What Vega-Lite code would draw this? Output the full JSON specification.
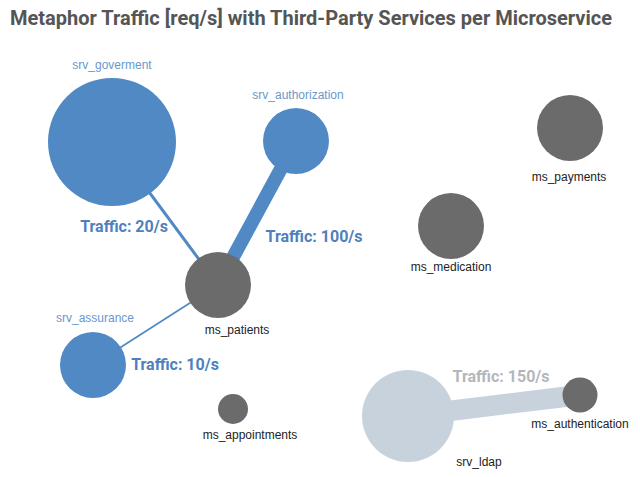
{
  "$schema": "https://vega.github.io/schema/vega-lite/v6.json",
  "width": 640,
  "height": 432,
  "autosize": {"type": "none"},
  "padding": {"left": 0, "top": 45, "right": 0, "bottom": 0},
  "background": "white",
  "title": {
    "text": "Metaphor Traffic [req/s] with Third-Party Services per Microservice",
    "anchor": "start",
    "frame": "group",
    "dx": 10,
    "offset": 16,
    "font": "Roboto",
    "fontSize": 20,
    "fontWeight": "bold",
    "color": "#555555"
  },
  "config": {"view": {"stroke": null}},
  "datasets": {
    "nodes": [
      {"name": "srv_goverment", "kind": "service", "x": 112, "y": 142, "d": 128, "lx": 112, "ly": 65},
      {"name": "srv_authorization", "kind": "service", "x": 296, "y": 141, "d": 66, "lx": 298, "ly": 95},
      {"name": "ms_patients", "kind": "microservice", "x": 218, "y": 285, "d": 66, "lx": 237, "ly": 330},
      {"name": "srv_assurance", "kind": "service", "x": 93, "y": 365, "d": 66, "lx": 95, "ly": 318},
      {"name": "ms_appointments", "kind": "microservice", "x": 233, "y": 409, "d": 30, "lx": 250, "ly": 435},
      {"name": "ms_payments", "kind": "microservice", "x": 570, "y": 128, "d": 66, "lx": 569, "ly": 177},
      {"name": "ms_medication", "kind": "microservice", "x": 451, "y": 226, "d": 66, "lx": 451, "ly": 267},
      {"name": "srv_ldap", "kind": "idle", "x": 408, "y": 416, "d": 92, "lx": 479, "ly": 462},
      {"name": "ms_authentication", "kind": "microservice", "x": 580, "y": 395, "d": 35, "lx": 580, "ly": 424}
    ],
    "edges": [
      {"source": "srv_goverment", "target": "ms_patients", "status": "active", "traffic": 20, "x": 112, "y": 142, "x2": 218, "y2": 285, "lx": 124, "ly": 227},
      {"source": "srv_authorization", "target": "ms_patients", "status": "active", "traffic": 100, "x": 296, "y": 141, "x2": 218, "y2": 285, "lx": 314, "ly": 237},
      {"source": "srv_assurance", "target": "ms_patients", "status": "active", "traffic": 10, "x": 93, "y": 365, "x2": 218, "y2": 285, "lx": 175, "ly": 365},
      {"source": "srv_ldap", "target": "ms_authentication", "status": "idle", "traffic": 150, "x": 408, "y": 416, "x2": 580, "y2": 395, "lx": 501, "ly": 377}
    ]
  },
  "layer": [
    {
      "data": {"name": "edges"},
      "mark": {"type": "rule", "strokeCap": "butt"},
      "encoding": {
        "x": {"field": "x", "type": "quantitative", "scale": {"domain": [0, 640], "nice": false, "zero": false}, "axis": null},
        "y": {"field": "y", "type": "quantitative", "scale": {"domain": [45, 477], "nice": false, "zero": false, "reverse": true}, "axis": null},
        "x2": {"field": "x2"},
        "y2": {"field": "y2"},
        "strokeWidth": {"field": "traffic", "type": "quantitative", "scale": {"domain": [0, 150], "range": [0.3, 20.5]}, "legend": null},
        "color": {"field": "status", "type": "nominal", "scale": {"domain": ["active", "idle"], "range": ["#5089c3", "#c7d2dd"]}, "legend": null}
      }
    },
    {
      "data": {"name": "nodes"},
      "mark": {"type": "point", "shape": "circle", "filled": true, "opacity": 1},
      "encoding": {
        "x": {"field": "x", "type": "quantitative"},
        "y": {"field": "y", "type": "quantitative"},
        "size": {"field": "d", "type": "quantitative", "scale": {"type": "pow", "exponent": 2, "domain": [0, 128], "range": [0, 16384]}, "legend": null},
        "fill": {"field": "kind", "type": "nominal", "scale": {"domain": ["service", "microservice", "idle"], "range": ["#5089c3", "#6b6b6b", "#c7d2dd"]}, "legend": null}
      }
    },
    {
      "data": {"name": "nodes"},
      "mark": {"type": "text", "font": "Liberation Sans", "fontSize": 12, "baseline": "middle", "align": "center"},
      "encoding": {
        "x": {"field": "lx", "type": "quantitative"},
        "y": {"field": "ly", "type": "quantitative"},
        "text": {"field": "name"},
        "color": {"field": "kind", "type": "nominal", "scale": {"domain": ["service", "microservice", "idle"], "range": ["#6a98cc", "#222222", "#222222"]}, "legend": null}
      }
    },
    {
      "data": {"name": "edges"},
      "transform": [{"calculate": "'Traffic: ' + datum.traffic + '/s'", "as": "label"}],
      "mark": {"type": "text", "font": "Roboto", "fontSize": 16, "fontWeight": "bold", "baseline": "middle", "align": "center"},
      "encoding": {
        "x": {"field": "lx", "type": "quantitative"},
        "y": {"field": "ly", "type": "quantitative"},
        "text": {"field": "label"},
        "color": {"field": "status", "type": "nominal", "scale": {"domain": ["active", "idle"], "range": ["#4f7fbd", "#b3b7bb"]}, "legend": null}
      }
    }
  ],
  "resolve": {"scale": {"color": "independent"}}
}
